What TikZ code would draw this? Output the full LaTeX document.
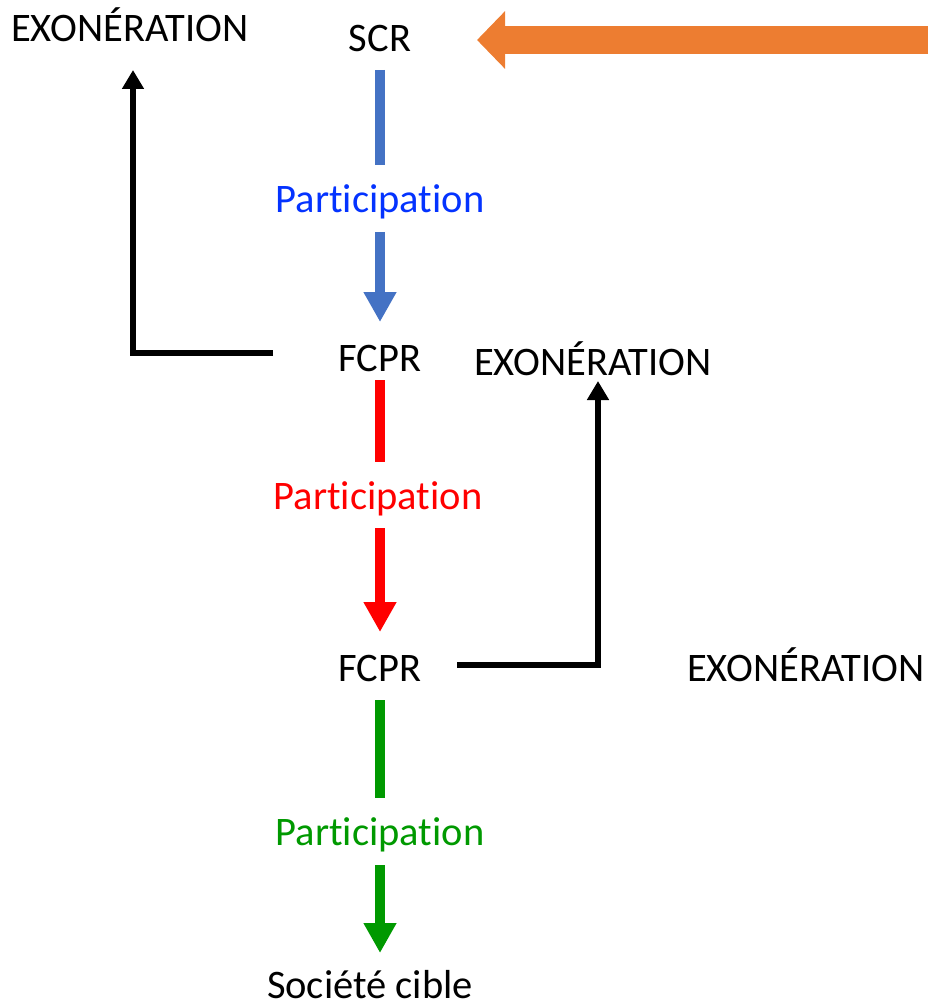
\documentclass[tikz,border=0pt]{standalone}
\usepackage{fontspec}
\setmainfont[RawFeature=-liga]{Carlito}
\usepackage{xcolor}
\usetikzlibrary{arrows.meta}
\definecolor{barblue}{HTML}{4472C4}
\definecolor{txtblue}{HTML}{0433FF}
\definecolor{txtred}{HTML}{FF0000}
\definecolor{txtgreen}{HTML}{009900}
\definecolor{bigorange}{HTML}{ED7D31}

\begin{document}
\begin{tikzpicture}[x=1pt,y=-1pt,
  lbl/.style={inner sep=0pt, anchor=base, font=\fontsize{40.5}{48}\selectfont},
  flow/.style={line width=10pt, -{Triangle[length=30pt,width=31pt]}},
  flowbar/.style={line width=10pt},
  exo/.style={line width=6.5pt, line join=miter, -{Triangle[length=19pt,width=21pt]}}]
\useasboundingbox (0,0) rectangle (928,1008);
% texts
\node[lbl] (exo1) at (130,42) {EXONÉRATION};
\node[lbl] (scr) at (380,52) {SCR};
\node[lbl, text=txtblue] (p1) at (380,213) {Participation};
\node[lbl] (fcpr1) at (380,371) {FCPR};
\node[lbl] (exo2) at (593,375) {EXONÉRATION};
\node[lbl, text=txtred] (p2) at (378,509) {Participation};
\node[lbl] (fcpr2) at (380,681) {FCPR};
\node[lbl] (exo3) at (806,681) {EXONÉRATION};
\node[lbl, text=txtgreen] (p3) at (380,845) {Participation};
\node[lbl] (soc) at (370,998) {Société cible};
\coordinate (orsrc) at (928,40);
% participations
\draw[flowbar, barblue] ([yshift=-18pt]scr.base) -- ([yshift=48pt]p1.base);
\draw[flow, barblue] ([yshift=-19pt]p1.base) -- ([yshift=49pt]fcpr1.base);
\draw[flowbar, txtred] ([yshift=-9pt]fcpr1.base) -- ([xshift=2pt,yshift=47pt]p2.base);
\draw[flow, txtred] ([xshift=2pt,yshift=-19pt]p2.base) -- ([yshift=49pt]fcpr2.base);
\draw[flowbar, txtgreen] ([yshift=-19pt]fcpr2.base) -- ([yshift=47pt]p3.base);
\draw[flow, txtgreen] ([yshift=-20pt]p3.base) -- ([xshift=10pt,yshift=45pt]soc.base);
% exonerations
\draw[exo] ([xshift=-107pt,yshift=18pt]fcpr1.base) -| ([xshift=3pt,yshift=-28pt]exo1.base);
\draw[exo] ([xshift=77pt,yshift=16pt]fcpr2.base) -| ([xshift=5pt,yshift=-6pt]exo2.base);
% big arrow
\draw[bigorange, line width=28pt, -{Triangle[length=28pt,width=56pt]}] (orsrc) -- ([xshift=97pt,yshift=12pt]scr.base);
\end{tikzpicture}
\end{document}
